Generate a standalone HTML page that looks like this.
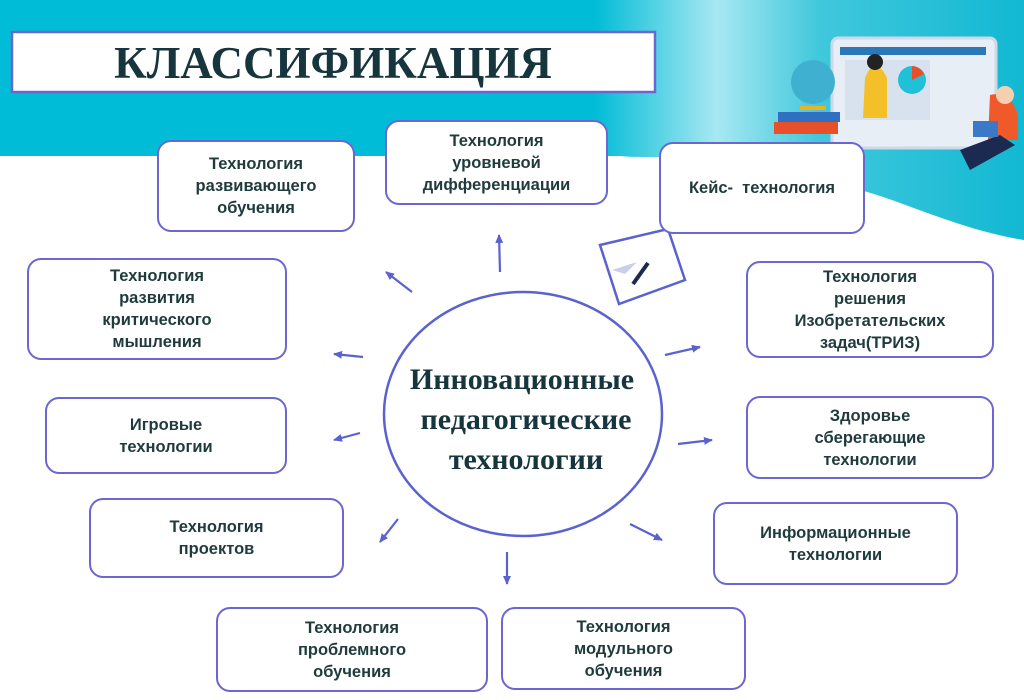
<!DOCTYPE html>
<html><head><meta charset="utf-8"><style>
body{margin:0;width:1024px;height:700px;overflow:hidden;background:#fff;position:relative;font-family:"Liberation Sans",sans-serif}
.b{position:absolute;border:2.5px solid #6a68d0;border-radius:14px;background:#fff;display:flex;align-items:center;justify-content:center;text-align:center;font-weight:bold;font-size:16.5px;line-height:22px;color:#1f3b3b;box-sizing:border-box}
svg{position:absolute;left:0;top:0}
</style></head><body>
<svg width="1024" height="700">
<defs><linearGradient id="g" x1="0" x2="1"><stop offset="0" stop-color="#00bcd6"/><stop offset="0.58" stop-color="#00bcd6"/><stop offset="0.7" stop-color="#a8e8f2"/><stop offset="0.8" stop-color="#40c8dc"/><stop offset="1" stop-color="#12b8d2"/></linearGradient>
<marker id="a" markerUnits="userSpaceOnUse" markerWidth="10" markerHeight="10" refX="8" refY="5" orient="auto"><path d="M0,1 L9,5 L0,9 z" fill="#5a62d0"/></marker></defs>
<path d="M0,0 H1024 V240 C960,230 900,200 860,190 C800,180 760,160 700,158 C650,156 640,158 620,156 H0 Z" fill="url(#g)"/>
<rect x="12" y="32" width="643" height="60" fill="#fff" stroke="#6a68d0" stroke-width="2.5"/>
<text x="333" y="78" text-anchor="middle" font-family="Liberation Serif" font-weight="bold" font-size="45" fill="#16353d">КЛАССИФИКАЦИЯ</text>
<rect x="832" y="38" width="164" height="110" rx="6" fill="#e8eef6" stroke="#cfd8e6" stroke-width="3"/>
<rect x="840" y="47" width="146" height="8" fill="#2a78b8"/>
<rect x="845" y="60" width="85" height="60" fill="#d8e2ee"/>
<path d="M865,78 q10,-25 22,0 v40 h-24z" fill="#f4c02a"/>
<circle cx="875" cy="62" r="8" fill="#222"/>
<circle cx="912" cy="80" r="14" fill="#20c0d8"/><path d="M912,80 v-14 a14,14 0 0 1 12,8z" fill="#e8502a"/>
<circle cx="813" cy="82" r="22" fill="#40b0d0"/><path d="M800,108 h26" stroke="#f0b020" stroke-width="4"/>
<rect x="778" y="112" width="62" height="10" fill="#3070c0"/><rect x="774" y="122" width="64" height="12" fill="#e8502a"/>
<path d="M990,95 q20,-5 28,20 v25 h-30z" fill="#f05a2a"/><circle cx="1005" cy="95" r="9" fill="#f5d0b0"/>
<path d="M960,150 l40,-15 l15,10 l-45,25z" fill="#1a2a50"/><rect x="973" y="121" width="25" height="16" fill="#3a78c8"/>
<ellipse cx="523" cy="414" rx="139" ry="122" fill="#fff" stroke="#5a62d0" stroke-width="2.5"/>
<g font-family="Liberation Serif" font-weight="bold" font-size="30" fill="#16353d" text-anchor="middle">
<text x="522" y="389">Инновационные</text><text x="526" y="429">педагогические</text><text x="526" y="469">технологии</text></g>
<g stroke="#5a62d0" stroke-width="2.2" marker-end="url(#a)">
<line x1="500" y1="272" x2="499" y2="235"/><line x1="412" y1="292" x2="386" y2="272"/>
<line x1="363" y1="357" x2="334" y2="354"/><line x1="360" y1="433" x2="334" y2="440"/>
<line x1="398" y1="519" x2="380" y2="542"/><line x1="507" y1="552" x2="507" y2="584"/>
<line x1="630" y1="524" x2="662" y2="540"/><line x1="678" y1="444" x2="712" y2="440"/>
<line x1="665" y1="355" x2="700" y2="347"/></g>
<polygon points="600,245 668,229 685,280 619,304" fill="#fff" stroke="#5a62d0" stroke-width="2.5"/>
<path d="M612,270 l25,-8 l-12,12z" fill="#c8d0e8"/><line x1="633" y1="284" x2="648" y2="263" stroke="#1a2a50" stroke-width="4"/>
</svg>
<div class="b" style="left:157px;top:140px;width:198px;height:92px">Технология<br>развивающего<br>обучения</div>
<div class="b" style="left:385px;top:120px;width:223px;height:85px">Технология<br>уровневой<br>дифференциации</div>
<div class="b" style="left:659px;top:142px;width:206px;height:92px">Кейс-&nbsp; технология</div>
<div class="b" style="left:27px;top:258px;width:260px;height:102px">Технология<br>развития<br>критического<br>мышления</div>
<div class="b" style="left:746px;top:261px;width:248px;height:97px">Технология<br>решения<br>Изобретательских<br>задач(ТРИЗ)</div>
<div class="b" style="left:45px;top:397px;width:242px;height:77px">Игровые<br>технологии</div>
<div class="b" style="left:746px;top:396px;width:248px;height:83px">Здоровье<br>сберегающие<br>технологии</div>
<div class="b" style="left:89px;top:498px;width:255px;height:80px">Технология<br>проектов</div>
<div class="b" style="left:713px;top:502px;width:245px;height:83px">Информационные<br>технологии</div>
<div class="b" style="left:216px;top:607px;width:272px;height:85px">Технология<br>проблемного<br>обучения</div>
<div class="b" style="left:501px;top:607px;width:245px;height:83px">Технология<br>модульного<br>обучения</div>
</body></html>
